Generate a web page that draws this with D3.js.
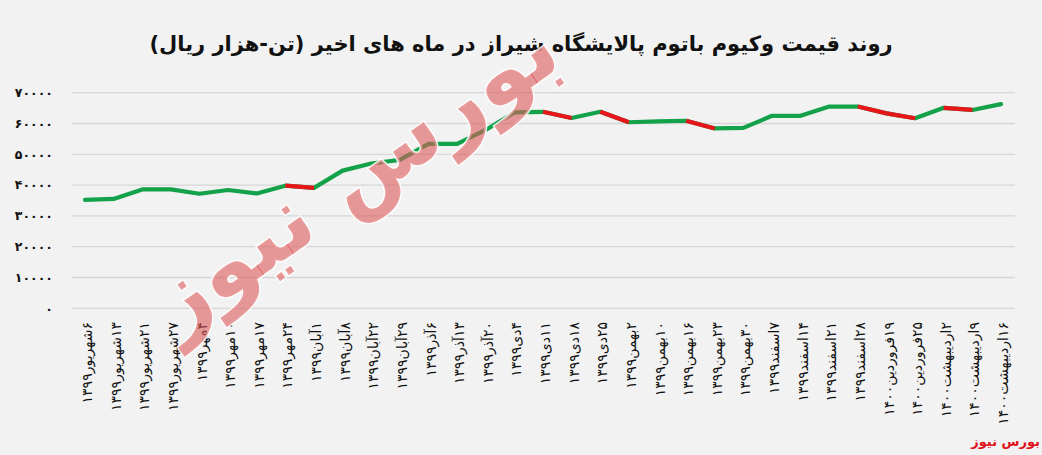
<!DOCTYPE html>
<html><head><meta charset="utf-8">
<script src="https://cdn.jsdelivr.net/npm/d3@7"></script>
<style>
html,body{margin:0;padding:0;background:#f2f2f2;}
svg{display:block;font-family:"DejaVu Sans",sans-serif;}
</style></head>
<body>
<svg id="chart" width="1042" height="455"></svg>
<script>
const title = "روند قیمت وکیوم باتوم پالایشگاه شیراز در ماه های اخیر (تن-هزار ریال)";
const dates = ["۶شهریور۱۳۹۹","۱۳شهریور۱۳۹۹","۲۱شهریور۱۳۹۹","۲۷شهریور۱۳۹۹","۴مهر۱۳۹۹","۱۰مهر۱۳۹۹","۱۷مهر۱۳۹۹","۲۴مهر۱۳۹۹","۱آبان۱۳۹۹","۸آبان۱۳۹۹","۲۲آبان۱۳۹۹","۲۹آبان۱۳۹۹","۶آذر۱۳۹۹","۱۳آذر۱۳۹۹","۲۰آذر۱۳۹۹","۴دی۱۳۹۹","۱۱دی۱۳۹۹","۱۸دی۱۳۹۹","۲۵دی۱۳۹۹","۲بهمن۱۳۹۹","۱۰بهمن۱۳۹۹","۱۶بهمن۱۳۹۹","۲۳بهمن۱۳۹۹","۳۰بهمن۱۳۹۹","۷اسفند۱۳۹۹","۱۴اسفند۱۳۹۹","۲۱اسفند۱۳۹۹","۲۸اسفند۱۳۹۹","۱۹فروردین۱۴۰۰","۲۵فروردین۱۴۰۰","۲اردیبهشت۱۴۰۰","۹اردیبهشت۱۴۰۰","۱۶اردیبهشت۱۴۰۰"];
const prices = [35200,35500,38600,38600,37200,38400,37300,39800,39100,44700,47000,48200,53400,53400,57900,63600,63800,61800,63800,60400,60700,60900,58400,58600,62500,62500,65500,65500,63300,61700,65100,64400,66300];
// segments (by start index) drawn as declines
const declineSegments = [7,16,18,21,27,28,30];
const yTicks = [0,10000,20000,30000,40000,50000,60000,70000];
const watermark = "بورس نیوز";
const source = "بورس نیوز";

const fa = s => String(s).replace(/\d/g, d => "۰۱۲۳۴۵۶۷۸۹"[d]);

const svg = d3.select("#chart");
svg.append("rect").attr("width",1042).attr("height",455).attr("fill","#f2f2f2");

const x = d3.scalePoint().domain(d3.range(dates.length)).range([85,1001]);
const y = d3.scaleLinear().domain([0,70000]).range([308.3,92.7]);

// grid
svg.append("g").selectAll("line").data(yTicks).join("line")
  .attr("x1",72).attr("x2",1015)
  .attr("y1",d=>y(d)).attr("y2",d=>y(d))
  .attr("stroke","#d6d6d6").attr("stroke-width",1.3);

// y labels
svg.append("g").selectAll("text").data(yTicks).join("text")
  .attr("x",53).attr("y",d=>y(d)).attr("dy","0.35em")
  .attr("text-anchor","end").attr("font-size",12.5).attr("font-weight","bold")
  .attr("fill","#111").text(d=>fa(d));

// x labels (rtl so the day number sits at the top)
svg.append("g").selectAll("text").data(dates).join("text")
  .attr("transform",(d,i)=>`translate(${x(i)+7},322) rotate(-90)`)
  .attr("direction","rtl").attr("text-anchor","start").attr("font-size",14)
  .attr("fill","#111").text(d=>d);

// line
const line = d3.line().x((d,i)=>x(i)).y(d=>y(d));
svg.append("path").datum(prices).attr("d",line)
  .attr("fill","none").attr("stroke","#13a24a").attr("stroke-width",4.2)
  .attr("stroke-linejoin","round").attr("stroke-linecap","round");
svg.append("g").selectAll("line").data(declineSegments).join("line")
  .attr("x1",i=>x(i)).attr("y1",i=>y(prices[i]))
  .attr("x2",i=>x(i+1)).attr("y2",i=>y(prices[i+1]))
  .attr("stroke","#e8161b").attr("stroke-width",4.2);

// title
svg.append("text").attr("x",521).attr("y",51).attr("text-anchor","middle")
  .attr("direction","rtl")
  .attr("font-size",21).attr("font-weight","bold").attr("fill","#111").text(title);

// watermark
svg.append("text")
  .attr("transform","translate(370,200) rotate(-35)")
  .attr("text-anchor","middle").attr("font-size",90).attr("font-weight","bold")
  .attr("fill","#dc5a5a").attr("fill-opacity",0.6)
  .attr("stroke","#ffffff").attr("stroke-opacity",0.85).attr("stroke-width",3)
  .attr("paint-order","stroke")
  .text(watermark);

// source
svg.append("text").attr("x",1040).attr("y",446).attr("text-anchor","end")
  .attr("font-size",13).attr("font-weight","bold").attr("fill","#e0101a").text(source);
</script>
</body></html>
